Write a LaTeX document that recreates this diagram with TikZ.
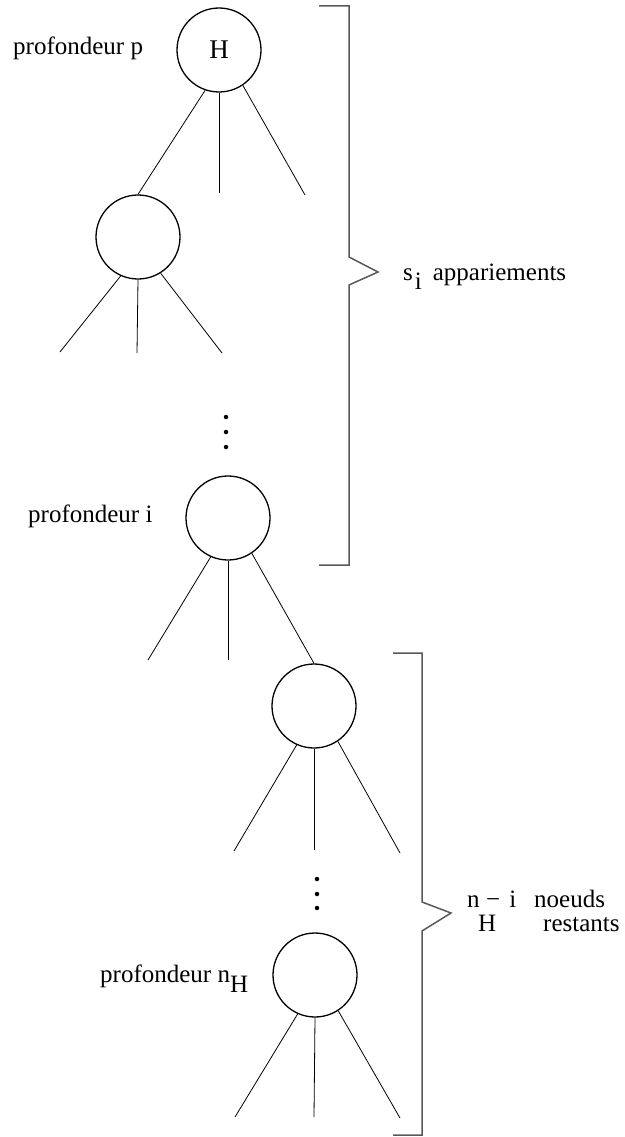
\documentclass[tikz,border=0pt]{standalone}
\usepackage{fontspec}
\setmainfont{Liberation Serif}
\begin{document}
\begin{tikzpicture}[x=1pt,y=-1pt,
  treenode/.style={circle,draw,line width=1.3pt,minimum size=84pt,inner sep=0pt},
  edge/.style={line width=0.8pt},
  bracket/.style={draw=black!65,line width=1.5pt,line join=miter},
  lbl/.style={anchor=base west,inner sep=0pt,font=\fontsize{25}{30}\selectfont},
  dot/.style={circle,fill,inner sep=0pt,minimum size=4.5pt}]
\useasboundingbox (0,0) rectangle (624,1137);

% nodes
\node[treenode,font=\fontsize{27}{32}\selectfont] (c1) at (219,50) {H};
\node[treenode] (c2) at (138,237) {};
\node[treenode] (c3) at (228,518) {};
\node[treenode] (c4) at (314,706) {};
\node[treenode] (c5) at (315,975) {};

% free ends
\coordinate (c1m) at (219,193);
\coordinate (c1r) at (305,195);
\coordinate (c2l) at (60,352);
\coordinate (c2m) at (137,353);
\coordinate (c2r) at (222,353);
\coordinate (c3l) at (148,660);
\coordinate (c3m) at (228,660);
\coordinate (c4l) at (234,851);
\coordinate (c4m) at (314,850);
\coordinate (c4r) at (400,853);
\coordinate (c5l) at (235,1117);
\coordinate (c5m) at (314,1117);
\coordinate (c5r) at (400,1118);

% edges
\draw[edge] (c1.-109) -- (c2.north);
\draw[edge] (c1.south) -- (c1m);
\draw[edge] (c1.-56) -- (c1r);
\draw[edge] (c2.-114) -- (c2l);
\draw[edge] (c2.south) -- (c2m);
\draw[edge] (c2.-58) -- (c2r);
\draw[edge] (c3.-114) -- (c3l);
\draw[edge] (c3.south) -- (c3m);
\draw[edge] (c3.-56) -- (c4.north);
\draw[edge] (c4.-114) -- (c4l);
\draw[edge] (c4.south) -- (c4m);
\draw[edge] (c4.-56) -- (c4r);
\draw[edge] (c5.-114) -- (c5l);
\draw[edge] (c5.south) -- (c5m);
\draw[edge] (c5.-57) -- (c5r);

% vertical dots
\node[dot] (d1) at (226,417) {};
\node[dot] (d2) at (226,432) {};
\node[dot] (d3) at (226,447) {};
\node[dot] (d4) at (317,879) {};
\node[dot] (d5) at (317,894) {};
\node[dot] (d6) at (317,908) {};

% labels
\node[lbl] (lp) at (13,55) {profondeur p};
\node[lbl] (li) at (28,522) {profondeur i};
\node[lbl] (ln) at (100,982) {profondeur n\raisebox{-10pt}{H}};

% brackets
\draw[bracket] (319,6) -- (349,6) -- (349,257) -- (378,272) -- (349,285) -- (349,565) -- (319,565);
\draw[bracket] (393,653) -- (422,653) -- (422,902) -- (451,913) -- (422,931) -- (422,1135) -- (393,1135);

% bracket labels
\node[lbl] (si) at (403,280) {s\kern2pt\raisebox{-9pt}{i}\hspace{11pt}appariements};
\node[lbl] (nn) at (467,907) {n};
\node[lbl] (nh) at (478,931) {H};
\node[lbl] (nm) at (486,907) {−\hspace{9pt}i};
\node[lbl] (nd) at (534,907) {noeuds};
\node[lbl] (nr) at (543,931) {restants};
\end{tikzpicture}
\end{document}
